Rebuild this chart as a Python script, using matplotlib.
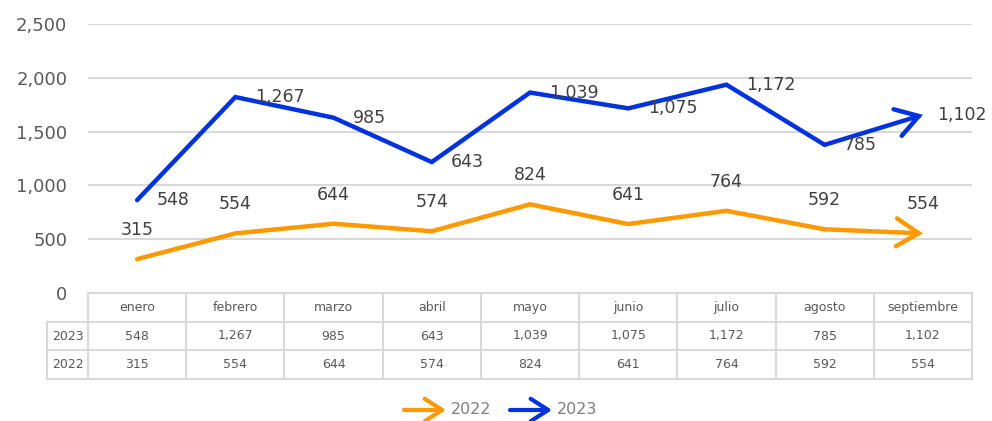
import matplotlib
matplotlib.use("Agg")
import matplotlib.pyplot as plt
import numpy as np

months = ["enero", "febrero", "marzo", "abril", "mayo", "junio", "julio", "agosto", "septiembre"]
v2022 = [315, 554, 644, 574, 824, 641, 764, 592, 554]
v2023 = [548, 1267, 985, 643, 1039, 1075, 1172, 785, 1102]
yticks = [0, 500, 1000, 1500, 2000, 2500]

ORANGE = "#FF9900"
BLUE = "#0033DD"
GRID = "#D9D9D9"
TXT = "#595959"
plt.rcParams['font.family'] = ['DejaVu Sans']

W, H = 992, 421
fig = plt.figure(figsize=(W/100, H/100), dpi=100)

def px(x0, y0, x1, y1):
    return [x0/W, 1 - y1/H, (x1-x0)/W, (y1-y0)/H]

ax = fig.add_axes(px(88, 24, 972, 293))
x = np.arange(len(months))
s2022 = np.array(v2022, dtype=float)
s2023 = s2022 + np.array(v2023, dtype=float)

ax.set_xlim(-0.5, len(months)-0.5)
ax.set_ylim(0, 2500)
ax.set_yticks(yticks)
ax.set_yticklabels([f"{t:,}" for t in yticks], fontsize=13, color=TXT)
ax.set_xticks([])
ax.tick_params(axis='y', length=0, pad=15)
for sp in ax.spines.values():
    sp.set_visible(False)
for t in yticks[1:]:
    ax.axhline(t, color=GRID, lw=1.5, zorder=0)

for ser, col in [(s2022, ORANGE), (s2023, BLUE)]:
    ax.plot(x[:-1], ser[:-1], color=col, lw=3.2, solid_capstyle='round', solid_joinstyle='miter', zorder=3)
    ax.annotate('', xy=(x[-1], ser[-1]), xytext=(x[-2], ser[-2]),
                arrowprops=dict(arrowstyle='->,head_length=0.8,head_width=0.5', color=col, lw=3.2,
                                shrinkA=0, shrinkB=0, mutation_scale=20, capstyle='round', joinstyle='miter'),
                zorder=3)

n = len(months)
for i in range(n):
    ax.annotate(f"{v2022[i]:,}", (x[i], s2022[i]), xytext=(0, 21), textcoords='offset points',
                ha='center', va='center', fontsize=12.5, color="#404040")
    dx = 14 if i < n-1 else 10
    ax.annotate(f"{v2023[i]:,}", (x[i], s2023[i]), xytext=(dx, 0), textcoords='offset points',
                ha='left', va='center', fontsize=12.5, color="#404040", annotation_clip=False)

# data table
tax = fig.add_axes(px(47, 293, 972, 379))
colw = 884/9
lab = 41/colw
tax.set_xlim(-0.5-lab, n-0.5)
tax.set_ylim(0, 3)
tax.axis('off')
lw = 1.5
tax.plot([-0.5, n-0.5], [3, 3], color=GRID, lw=lw, clip_on=False)
for yy in [2, 1, 0]:
    tax.plot([-0.5-lab, n-0.5], [yy, yy], color=GRID, lw=lw, clip_on=False)
tax.plot([-0.5-lab, -0.5-lab], [0, 2], color=GRID, lw=lw, clip_on=False)
for i in range(n+1):
    tax.plot([i-0.5, i-0.5], [0, 3], color=GRID, lw=lw, clip_on=False)
for i, m in enumerate(months):
    tax.text(i, 2.5, m, ha='center', va='center', fontsize=9, color=TXT)
    tax.text(i, 1.5, f"{v2023[i]:,}", ha='center', va='center', fontsize=9, color=TXT)
    tax.text(i, 0.5, f"{v2022[i]:,}", ha='center', va='center', fontsize=9, color=TXT)
tax.text(-0.5-lab/2, 1.5, "2023", ha='center', va='center', fontsize=9, color=TXT)
tax.text(-0.5-lab/2, 0.5, "2022", ha='center', va='center', fontsize=9, color=TXT)

# legend
ly = H - 410
for (x0, x1, tx, col, lbl) in [(404, 446, 451, ORANGE, "2022"), (510, 552, 557, BLUE, "2023")]:
    fig.add_artist(matplotlib.patches.FancyArrowPatch((x0/W, ly/H), (x1/W, ly/H), transform=fig.transFigure,
                   arrowstyle='->,head_length=0.7,head_width=0.45', mutation_scale=18, color=col, lw=3,
                   shrinkA=0, shrinkB=0, capstyle='round'))
    fig.text(tx/W, ly/H, lbl, ha='left', va='center', fontsize=11.5, color="#7F7F7F")

fig.savefig("out.png", dpi=100, facecolor='white')
